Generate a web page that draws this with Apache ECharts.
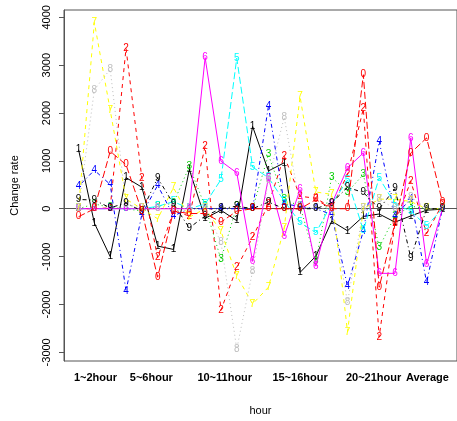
<!DOCTYPE html>
<html>
<head>
<meta charset="utf-8">
<script src="https://cdn.jsdelivr.net/npm/echarts@6/dist/echarts.min.js"></script>
<style>html,body{margin:0;padding:0;background:#fff}#c{width:457px;height:421px}</style>
</head>
<body>
<div id="c"></div>
<script>
// x positions 1..24 (hour categories)
const categories = ["1~2hour","2~3hour","3~4hour","4~5hour","5~6hour","6~7hour","7~8hour","8~9hour","9~10hour","10~11hour","11~12hour","12~13hour","13~14hour","14~15hour","15~16hour","16~17hour","17~18hour","18~19hour","19~20hour","20~21hour","21~22hour","22~23hour","23~24hour","Average"];
const tickLabels = ["1~2hour","5~6hour","10~11hour","15~16hour","20~21hour","Average"];
const labelAt = [2.07, 5.6, 10.24, 15.0, 19.65, 23.05];
const tickAt = [5, 10, 15, 20];
const yTicks = [-3000,-2000,-1000,0,1000,2000,3000,4000];

const s1 = [1235,-300,-1000,650,450,-780,-850,820,-200,-30,-250,1720,790,960,-1330,-990,-260,-460,-160,-110,-280,-150,-30,-10];
const s2 = [0,0,20,3350,640,-1020,-50,-150,1300,-2120,-1230,-600,90,1100,260,220,20,720,2090,-2680,-300,575,-520,100];
const s3 = [0,100,30,0,-50,50,120,880,50,-1060,50,0,1130,195,55,-1100,660,350,715,-810,-150,55,0,0];
const s4 = [470,805,507,-1714,-120,490,-150,0,0,0,0,0,2140,100,50,0,-120,-1620,-465,1410,-150,208,-1540,0];
const s5 = [0,0,0,0,0,50,150,0,100,610,3145,870,650,160,-290,-500,100,600,-450,645,100,-50,-360,0];
const s6 = [0,0,0,0,0,0,0,0,3157,993,750,-1100,645,-570,400,-1200,100,853,1166,-1350,-1350,1480,-1160,0];
const s7 = [0,3890,2060,200,0,-210,440,-175,0,-465,-1400,-1990,-1640,-400,2345,350,300,-2570,0,200,200,150,0,0];
const s8 = [0,2485,2915,100,0,0,0,0,0,-700,-2930,-1300,600,1910,50,0,0,-1960,0,200,0,250,0,0];
const s9 = [194,180,20,120,-50,645,100,-400,-150,0,55,0,140,0,0,0,125,445,340,0,420,-1030,0,0];
const s10 = [-167,0,1200,920,-50,-1430,-50,-100,-100,-280,-50,0,0,0,0,190,0,0,2800,-1640,-300,1166,1480,140];

const seriesVals = [s1,s2,s3,s4,s5,s6,s7,s8,s9,s10];
const pch = ["1","2","3","4","5","6","7","8","9","0"];
const colors = ["#000000","#FF0000","#00CD00","#0000FF","#00FFFF","#FF00FF","#FFFF00","#BEBEBE","#000000","#FF0000"];
const dashes = ["solid",[4,4],[1,3],[1,3,4,3],[7,3]];

const series = seriesVals.map((vals, k) => ({
  type: 'line',
  data: vals.map((v, i) => [i + 1, v]),
  symbol: 'circle',
  symbolSize: 1,
  itemStyle: { color: 'rgba(0,0,0,0)' },
  lineStyle: { color: colors[k], width: 1, type: dashes[k % 5] },
  label: { show: true, position: 'inside', formatter: pch[k], color: colors[k], fontSize: 10, fontFamily: 'Liberation Sans' },
  emphasis: { disabled: true },
  silent: true,
  z: 2 + k
}));

const chart = echarts.init(document.getElementById('c'), null, { renderer: 'canvas' });
chart.setOption({
  animation: false,
  backgroundColor: '#fff',
  textStyle: { fontFamily: 'Liberation Sans' },
  grid: { left: 64, top: 10, width: 393, height: 352, show: true, borderColor: '#555', borderWidth: 1 },
  xAxis: {
    type: 'value', min: 0.08, max: 24.92,
    name: 'hour', nameLocation: 'middle', nameGap: 44,
    nameTextStyle: { fontSize: 11, color: '#000' },
    axisLine: { show: true, lineStyle: { color: '#555' } },
    axisTick: { show: true, customValues: tickAt, length: 5, lineStyle: { color: '#555' } },
    axisLabel: {
      customValues: labelAt, margin: 11, fontSize: 11, fontWeight: 'bold', color: '#000',
      showMinLabel: true, showMaxLabel: true, hideOverlap: false,
      formatter: function (v) {
        let best = 0;
        for (let i = 1; i < labelAt.length; i++) if (Math.abs(labelAt[i] - v) < Math.abs(labelAt[best] - v)) best = i;
        return tickLabels[best];
      }
    },
    splitLine: { show: false }
  },
  yAxis: {
    type: 'value', min: -3181, max: 4152,
    name: 'Change rate', nameLocation: 'middle', nameGap: 44,
    nameTextStyle: { fontSize: 11, color: '#000' },
    axisLine: { show: true, lineStyle: { color: '#555' } },
    axisTick: { show: true, customValues: yTicks, length: 5, lineStyle: { color: '#555' } },
    axisLabel: { customValues: yTicks, rotate: 90, margin: 12, fontSize: 11, color: '#000',
      formatter: function (v) { return String(v); } },
    splitLine: { show: false }
  },
  series: series
});
</script>
</body>
</html>
